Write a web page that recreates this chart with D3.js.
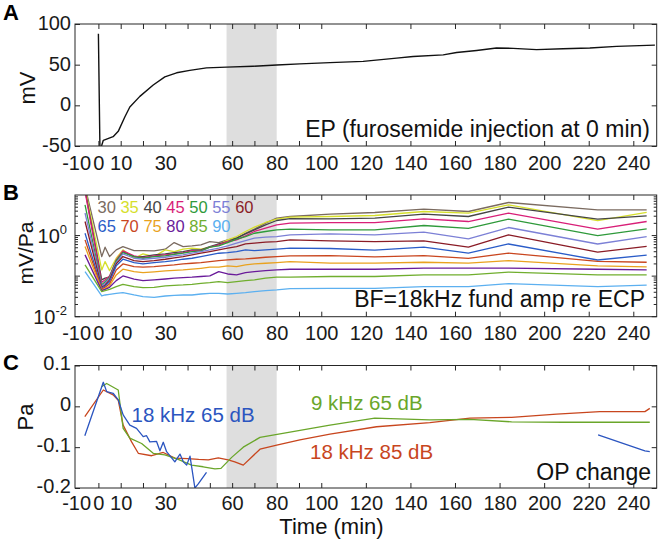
<!DOCTYPE html>
<html><head><meta charset="utf-8">
<script src="https://cdn.jsdelivr.net/npm/d3@7"></script>
<style>body{margin:0;background:#fff}svg{display:block}</style>
</head><body><svg id="c" width="660" height="543"></svg>
<script>
// ---------- shared time axis ----------
const timeTicks = [0,10,20,30,40,50,60,70,80,90,100,120,140,160,180,200,220,240];
const timeTickLabels = [-10,0,10,30,60,80,100,120,140,160,180,200,220,240];
const shadeRange = [57.5, 80];

// ---------- Panel A: EP (mV) ----------
const epTime = [0, 0.7, 1.4, 2.2, 6.6, 8.9, 11.9, 14.1, 18.6, 24.6, 29.8, 35.1, 41, 48.5, 57.5, 69.4, 80, 90.4, 103.9, 118.8, 133.8, 141.2, 154.7, 160.7, 169.7, 178.6, 186.1, 196.6, 208.5, 220.5, 232.5, 249.7];
const epMV   = [88, -55, -50, -43, -38.5, -32, -14, -2, 11, 25, 35, 40, 43, 46, 47, 48, 49.5, 51, 52.5, 54, 58, 60, 62, 65, 67.5, 70.5, 70, 68.5, 69.5, 70.5, 72.5, 74];
const epTicks = [100, 50, 0, -50];

// ---------- Panel B: fundamental amplitude re ECP (mV/Pa) ----------
const ampTime = [-6, 1.5, 3, 5, 8, 11, 16, 20, 25, 30, 34, 38, 42, 46, 50, 54, 58, 62, 66, 70, 75, 80, 86, 104, 124, 146, 166, 184, 224, 246];
const ampLevels = [30, 35, 40, 45, 50, 55, 60, 65, 70, 75, 80, 85, 90];
const ampColors = ["#7b6b60", "#d6df2c", "#454545", "#d81f78", "#2f9a3b", "#7c80d6", "#8a1c26", "#2a5cc8", "#c9461f", "#e9a21f", "#6a1b9a", "#70ae2e", "#5cb0f0"];
const amp30 = [16.2, 0.304, 0.516, 0.304, 0.444, 0.536, 0.427, 0.427, 0.419, 0.461, 0.673, 0.536, 0.557, 0.589, 0.712, 0.673, 0.783, 0.861, 1.14, 1.44, 2.02, 2.7, 2.95, 3.37, 3.70, 4.47, 3.92, 6.53, 4.32, 4.32];
const amp35 = [14.8, 0.142, 0.228, 0.137, 0.276, 0.444, 0.276, 0.353, 0.304, 0.444, 0.403, 0.461, 0.488, 0.461, 0.516, 0.589, 0.783, 0.946, 1.26, 1.61, 2.10, 2.54, 2.84, 2.95, 3.12, 3.92, 3.57, 5.73, 2.34, 3.72];
const amp40 = [13.4, 0.081, 0.089, 0.094, 0.228, 0.403, 0.304, 0.304, 0.334, 0.353, 0.381, 0.403, 0.444, 0.444, 0.536, 0.624, 0.712, 0.861, 1.10, 1.38, 1.84, 2.35, 2.63, 2.58, 2.69, 3.37, 2.95, 5.01, 2.54, 3.06];
const amp45 = [12.2, 0.0692, 0.081, 0.101, 0.251, 0.419, 0.315, 0.287, 0.315, 0.334, 0.353, 0.381, 0.427, 0.427, 0.516, 0.589, 0.712, 0.783, 0.983, 1.26, 1.52, 1.84, 2.02, 2.09, 2.09, 2.58, 2.22, 3.57, 1.44, 2.22];
const amp50 = [5.7, 0.0606, 0.073, 0.094, 0.242, 0.381, 0.304, 0.276, 0.304, 0.315, 0.346, 0.367, 0.403, 0.419, 0.516, 0.557, 0.673, 0.813, 0.946, 1.14, 1.26, 1.38, 1.44, 1.38, 1.38, 1.77, 1.51, 2.54, 1.0, 1.46];
const amp55 = [3.6, 0.0573, 0.0666, 0.089, 0.216, 0.353, 0.276, 0.261, 0.276, 0.292, 0.315, 0.334, 0.367, 0.403, 0.444, 0.488, 0.557, 0.648, 0.754, 0.861, 0.911, 0.946, 1.04, 1.10, 1.04, 1.21, 0.83, 1.58, 0.62, 0.94];
const amp60 = [2.22, 0.053, 0.0606, 0.081, 0.200, 0.304, 0.242, 0.228, 0.242, 0.261, 0.281, 0.304, 0.334, 0.367, 0.403, 0.444, 0.488, 0.536, 0.624, 0.648, 0.686, 0.712, 0.783, 0.74, 0.71, 0.74, 0.52, 1.04, 0.39, 0.54];
const amp65 = [1.14, 0.0501, 0.0573, 0.073, 0.179, 0.261, 0.216, 0.200, 0.216, 0.228, 0.242, 0.261, 0.276, 0.304, 0.334, 0.367, 0.381, 0.403, 0.444, 0.427, 0.444, 0.461, 0.488, 0.48, 0.44, 0.52, 0.37, 0.62, 0.25, 0.33];
const amp70 = [0.783, 0.0473, 0.053, 0.0641, 0.142, 0.200, 0.172, 0.166, 0.172, 0.182, 0.189, 0.200, 0.208, 0.216, 0.228, 0.242, 0.251, 0.261, 0.266, 0.276, 0.292, 0.304, 0.315, 0.32, 0.30, 0.32, 0.275, 0.37, 0.23, 0.22];
const amp75 = [0.536, 0.0456, 0.0492, 0.0573, 0.107, 0.148, 0.129, 0.122, 0.127, 0.134, 0.139, 0.142, 0.148, 0.156, 0.166, 0.166, 0.179, 0.172, 0.189, 0.200, 0.208, 0.216, 0.228, 0.21, 0.21, 0.22, 0.21, 0.24, 0.18, 0.17];
const amp80 = [0.334, 0.0439, 0.0473, 0.053, 0.0776, 0.101, 0.084, 0.0776, 0.081, 0.085, 0.089, 0.092, 0.094, 0.098, 0.101, 0.129, 0.113, 0.107, 0.122, 0.129, 0.137, 0.142, 0.148, 0.148, 0.148, 0.157, 0.157, 0.157, 0.148, 0.142];
const amp85 = [0.189, 0.0415, 0.0439, 0.0473, 0.0551, 0.0628, 0.0551, 0.0521, 0.053, 0.0573, 0.0594, 0.0606, 0.0628, 0.0666, 0.0692, 0.073, 0.0692, 0.073, 0.0776, 0.081, 0.089, 0.094, 0.094, 0.098, 0.098, 0.107, 0.107, 0.126, 0.107, 0.107];
const amp90 = [0.129, 0.0324, 0.0343, 0.0356, 0.0377, 0.0392, 0.0343, 0.0312, 0.0301, 0.0324, 0.0336, 0.0343, 0.0343, 0.0363, 0.0377, 0.0377, 0.0363, 0.0377, 0.0392, 0.0415, 0.0439, 0.0456, 0.0492, 0.050, 0.050, 0.055, 0.055, 0.065, 0.055, 0.060];
const ampSeries = [amp30, amp35, amp40, amp45, amp50, amp55, amp60, amp65, amp70, amp75, amp80, amp85, amp90];

// ---------- Panel C: OP change (Pa) ----------
const op18k65Time = [-6.1, 2.2, 3.7, 6.6, 8.9, 11.1, 14.1, 17.1, 20.1, 21.6, 23.1, 26.1, 27.6, 29.1, 30.6, 34.3, 36.6, 38.1, 39.6, 41.1, 43.3, 44.8, 48.5, null, 224.2, 245.2, 247.4];
const op18k65Pa   = [-0.072, 0.059, 0.036, 0.032, 0.016, -0.021, -0.046, -0.054, -0.074, -0.072, -0.087, -0.086, -0.109, -0.088, -0.111, -0.136, -0.117, -0.136, -0.144, -0.122, -0.2, -0.19, -0.162, null, -0.070, -0.109, -0.111];
const op18k85Time = [-6.1, 2.2, 6.6, 8.9, 11.1, 14.9, 17.9, 23.9, 29.1, 34.3, 40, 45, 49.3, 53.8, 58.2, 61.2, 65, 72.5, 80, 90.4, 103.9, 124.8, 148.7, 166.7, 185.4, 205.6, 225, 245.2, 247.4];
const op18k85Pa   = [-0.025, 0.040, 0.028, 0.015, -0.046, -0.087, -0.115, -0.121, -0.113, -0.127, -0.128, -0.13, -0.131, -0.126, -0.131, -0.136, -0.144, -0.105, -0.095, -0.082, -0.068, -0.05, -0.04, -0.029, -0.027, -0.019, -0.013, -0.013, -0.005];
const op9k65Time = [1.4, 3.7, 8.9, 11.1, 14.1, 19.4, 24.6, 29.8, 35.8, 41.8, 47, 52.3, 55, 59.8, 65, 72.5, 103.9, 124, 148.7, 166.7, 185.4, 208.5, 247.4];
const op9k65Pa   = [0.048, 0.056, 0.040, -0.054, -0.078, -0.091, -0.115, -0.119, -0.13, -0.144, -0.148, -0.153, -0.152, -0.125, -0.1, -0.076, -0.046, -0.029, -0.033, -0.032, -0.038, -0.039, -0.039];
const opTicks = [0.1, 0, -0.1, -0.2];
const opColors = {k18_65: "#2b55c0", k9_65: "#6aa62a", k18_85: "#c8461e"};

// ---------- layout ----------
const FONT = '"Liberation Sans", Arial, Helvetica, sans-serif';
const INK = "#262626";
const svg = d3.select("#c").attr("font-family", FONT);
const x = d3.scaleLinear().domain([-10.5, 250.5]).range([75, 656.7]);
const L = 75, R = 656.7;
const fmtMinus = d => (d < 0 ? "-" + Math.abs(d) : String(d));

function clip(id, top, bottom) {
  svg.append("clipPath").attr("id", id).append("rect")
    .attr("x", L).attr("y", top).attr("width", R - L).attr("height", bottom - top);
  return `url(#${id})`;
}

function frame(top, bottom) {
  svg.append("rect").attr("x", x(shadeRange[0])).attr("y", top)
    .attr("width", x(shadeRange[1]) - x(shadeRange[0])).attr("height", bottom - top)
    .attr("fill", "#dedede");
}

function axesX(top, bottom, labelPad) {
  const gb = svg.append("g").attr("transform", `translate(0,${bottom})`)
    .call(d3.axisBottom(x).tickValues(timeTicks).tickSize(-5).tickFormat(""));
  const gt = svg.append("g").attr("transform", `translate(0,${top})`)
    .call(d3.axisTop(x).tickValues(timeTicks).tickSize(-5).tickFormat(""));
  [gb, gt].forEach(g => { g.select(".domain").remove(); g.attr("color", INK); g.selectAll("line").attr("stroke-width", 1); });
  const gl = svg.append("g").attr("transform", `translate(0,${bottom})`)
    .call(d3.axisBottom(x).tickValues(timeTickLabels).tickSize(0).tickPadding(labelPad).tickFormat(fmtMinus));
  gl.select(".domain").remove();
  gl.attr("font-family", FONT).attr("font-size", 20).attr("color", "#1a1a1a");
}

function axesYLinear(y, ticks, fmt, dy) {
  const gl = svg.append("g").attr("transform", `translate(${L},0)`)
    .call(d3.axisLeft(y).tickValues(ticks).tickSize(-5).tickPadding(7).tickFormat(fmt));
  const gr = svg.append("g").attr("transform", `translate(${R},0)`)
    .call(d3.axisRight(y).tickValues(ticks).tickSize(-5).tickFormat(""));
  [gl, gr].forEach(g => { g.select(".domain").remove(); g.attr("color", INK); });
  gl.attr("font-family", FONT).attr("font-size", 20);
  gl.selectAll("text").attr("fill", "#1a1a1a").attr("dx", "0.15em").attr("dy", dy || "0.32em");
}

function box(top, bottom) {
  svg.append("rect").attr("x", L).attr("y", top).attr("width", R - L).attr("height", bottom - top)
    .attr("fill", "none").attr("stroke", INK).attr("stroke-width", 1);
}

// ================= Panel A =================
const A = {top: 24, bottom: 146};
const yA = d3.scaleLinear().domain([-50, 100]).range([A.bottom, A.top]);
frame(A.top, A.bottom);
const clipA = clip("clipA", A.top, A.bottom);
svg.append("path")
  .datum(epTime.map((t, i) => [t, epMV[i]]))
  .attr("clip-path", clipA)
  .attr("fill", "none").attr("stroke", "#111").attr("stroke-width", 1.4).attr("stroke-linejoin", "round")
  .attr("d", d3.line().x(d => x(d[0])).y(d => yA(d[1])));
axesX(A.top, A.bottom, 9.5);
axesYLinear(yA, epTicks, fmtMinus, "0.28em");
box(A.top, A.bottom);
svg.append("text").attr("x", 650).attr("y", 136.5).attr("text-anchor", "end")
  .attr("font-size", 23).attr("fill", "#111").text("EP (furosemide injection at 0 min)");
svg.append("text").attr("transform", "translate(35,88) rotate(-90)").attr("text-anchor", "middle")
  .attr("font-size", 22).attr("fill", "#111").text("mV");
svg.append("text").attr("x", 3).attr("y", 20).attr("font-size", 22).attr("font-weight", "bold")
  .attr("fill", "#000").text("A");

// ================= Panel B =================
const B = {top: 195, bottom: 316.7};
const yB = d3.scaleLog().domain([0.01, 10]).range([B.bottom, B.top]);
frame(B.top, B.bottom);
const clipB = clip("clipB", B.top, B.bottom);
const lineB = d3.line().x(d => x(d[0])).y(d => yB(d[1]));
ampSeries.forEach((s, i) => {
  svg.append("path").datum(ampTime.map((t, j) => [t, s[j]]))
    .attr("clip-path", clipB)
    .attr("fill", "none").attr("stroke", ampColors[i]).attr("stroke-width", 1.3).attr("stroke-linejoin", "round")
    .attr("d", lineB);
});
axesX(B.top, B.bottom, 9);
{
  const majors = [0.01, 0.1, 1];
  const minors = yB.ticks().filter(v => Math.abs(Math.log10(v) - Math.round(Math.log10(v))) > 1e-9);
  const g = svg.append("g").attr("stroke", INK).attr("stroke-width", 1);
  [[L, 1], [R, -1]].forEach(([x0, dir]) => {
    majors.forEach(v => g.append("line").attr("x1", x0).attr("x2", x0 + dir * 5).attr("y1", yB(v)).attr("y2", yB(v)));
    minors.forEach(v => g.append("line").attr("x1", x0).attr("x2", x0 + dir * 3).attr("y1", yB(v)).attr("y2", yB(v)));
  });
  [[1, "0"], [0.01, "-2"]].forEach(([v, e]) => {
    const t = svg.append("text").attr("x", 67).attr("y", yB(v) + 7.5).attr("text-anchor", "end")
      .attr("font-size", 20).attr("fill", "#1a1a1a");
    t.append("tspan").text("10");
    t.append("tspan").attr("font-size", 13).attr("dy", -9).text(e);
  });
}
box(B.top, B.bottom);
// legend of levels
[[ampLevels.slice(0, 7), ampColors.slice(0, 7), 213.3], [ampLevels.slice(7), ampColors.slice(7), 231.7]].forEach(([lv, cl, yy]) => {
  const t = svg.append("text").attr("x", 97.5).attr("y", yy).attr("font-size", 16.5).style("white-space", "pre");
  lv.forEach((v, i) => t.append("tspan").attr("fill", cl[i]).text(String(v) + (i < lv.length - 1 ? " " : "")));
});
svg.append("text").attr("x", 645).attr("y", 306.5).attr("text-anchor", "end")
  .attr("font-size", 23).attr("fill", "#111").text("BF=18kHz fund amp re ECP");
svg.append("text").attr("transform", "translate(33,253) rotate(-90)").attr("text-anchor", "middle")
  .attr("font-size", 21).attr("fill", "#111").text("mV/Pa");
svg.append("text").attr("x", 3).attr("y", 200).attr("font-size", 22).attr("font-weight", "bold").attr("fill", "#000").text("B");

// ================= Panel C =================
const C = {top: 365.5, bottom: 488};
const yC = d3.scaleLinear().domain([-0.2, 0.1]).range([C.bottom, C.top]);
frame(C.top, C.bottom);
const clipC = clip("clipC", C.top, C.bottom);
const lineC = d3.line().defined(d => d[0] !== null && d[1] !== null).x(d => x(d[0])).y(d => yC(d[1]));
[[op18k85Time, op18k85Pa, opColors.k18_85], [op9k65Time, op9k65Pa, opColors.k9_65], [op18k65Time, op18k65Pa, opColors.k18_65]].forEach(([tt, vv, c]) => {
  svg.append("path").datum(tt.map((t, i) => [t, vv[i]]))
    .attr("clip-path", clipC)
    .attr("fill", "none").attr("stroke", c).attr("stroke-width", 1.3).attr("stroke-linejoin", "round")
    .attr("d", lineC);
});
axesX(C.top, C.bottom, 7.5);
axesYLinear(yC, opTicks, d => (d === 0 ? "0" : (d < 0 ? "-" : "") + Math.abs(d).toFixed(1)), "0.22em");
box(C.top, C.bottom);
svg.append("text").attr("x", 131.5).attr("y", 421.5).attr("font-size", 20.5).attr("fill", opColors.k18_65).text("18 kHz 65 dB");
svg.append("text").attr("x", 311).attr("y", 410).attr("font-size", 20.5).attr("fill", opColors.k9_65).text("9 kHz 65 dB");
svg.append("text").attr("x", 310).attr("y", 459).attr("font-size", 20.5).attr("fill", opColors.k18_85).text("18 kHz 85 dB");
svg.append("text").attr("x", 651).attr("y", 480).attr("text-anchor", "end").attr("font-size", 23).attr("fill", "#111").text("OP change");
svg.append("text").attr("transform", "translate(33,417) rotate(-90)").attr("text-anchor", "middle")
  .attr("font-size", 22).attr("fill", "#111").text("Pa");
svg.append("text").attr("x", 331.5).attr("y", 534).attr("text-anchor", "middle").attr("font-size", 22).attr("fill", "#111").text("Time (min)");
svg.append("text").attr("x", 3).attr("y", 370).attr("font-size", 22).attr("font-weight", "bold").attr("fill", "#000").text("C");
</script></body></html>
